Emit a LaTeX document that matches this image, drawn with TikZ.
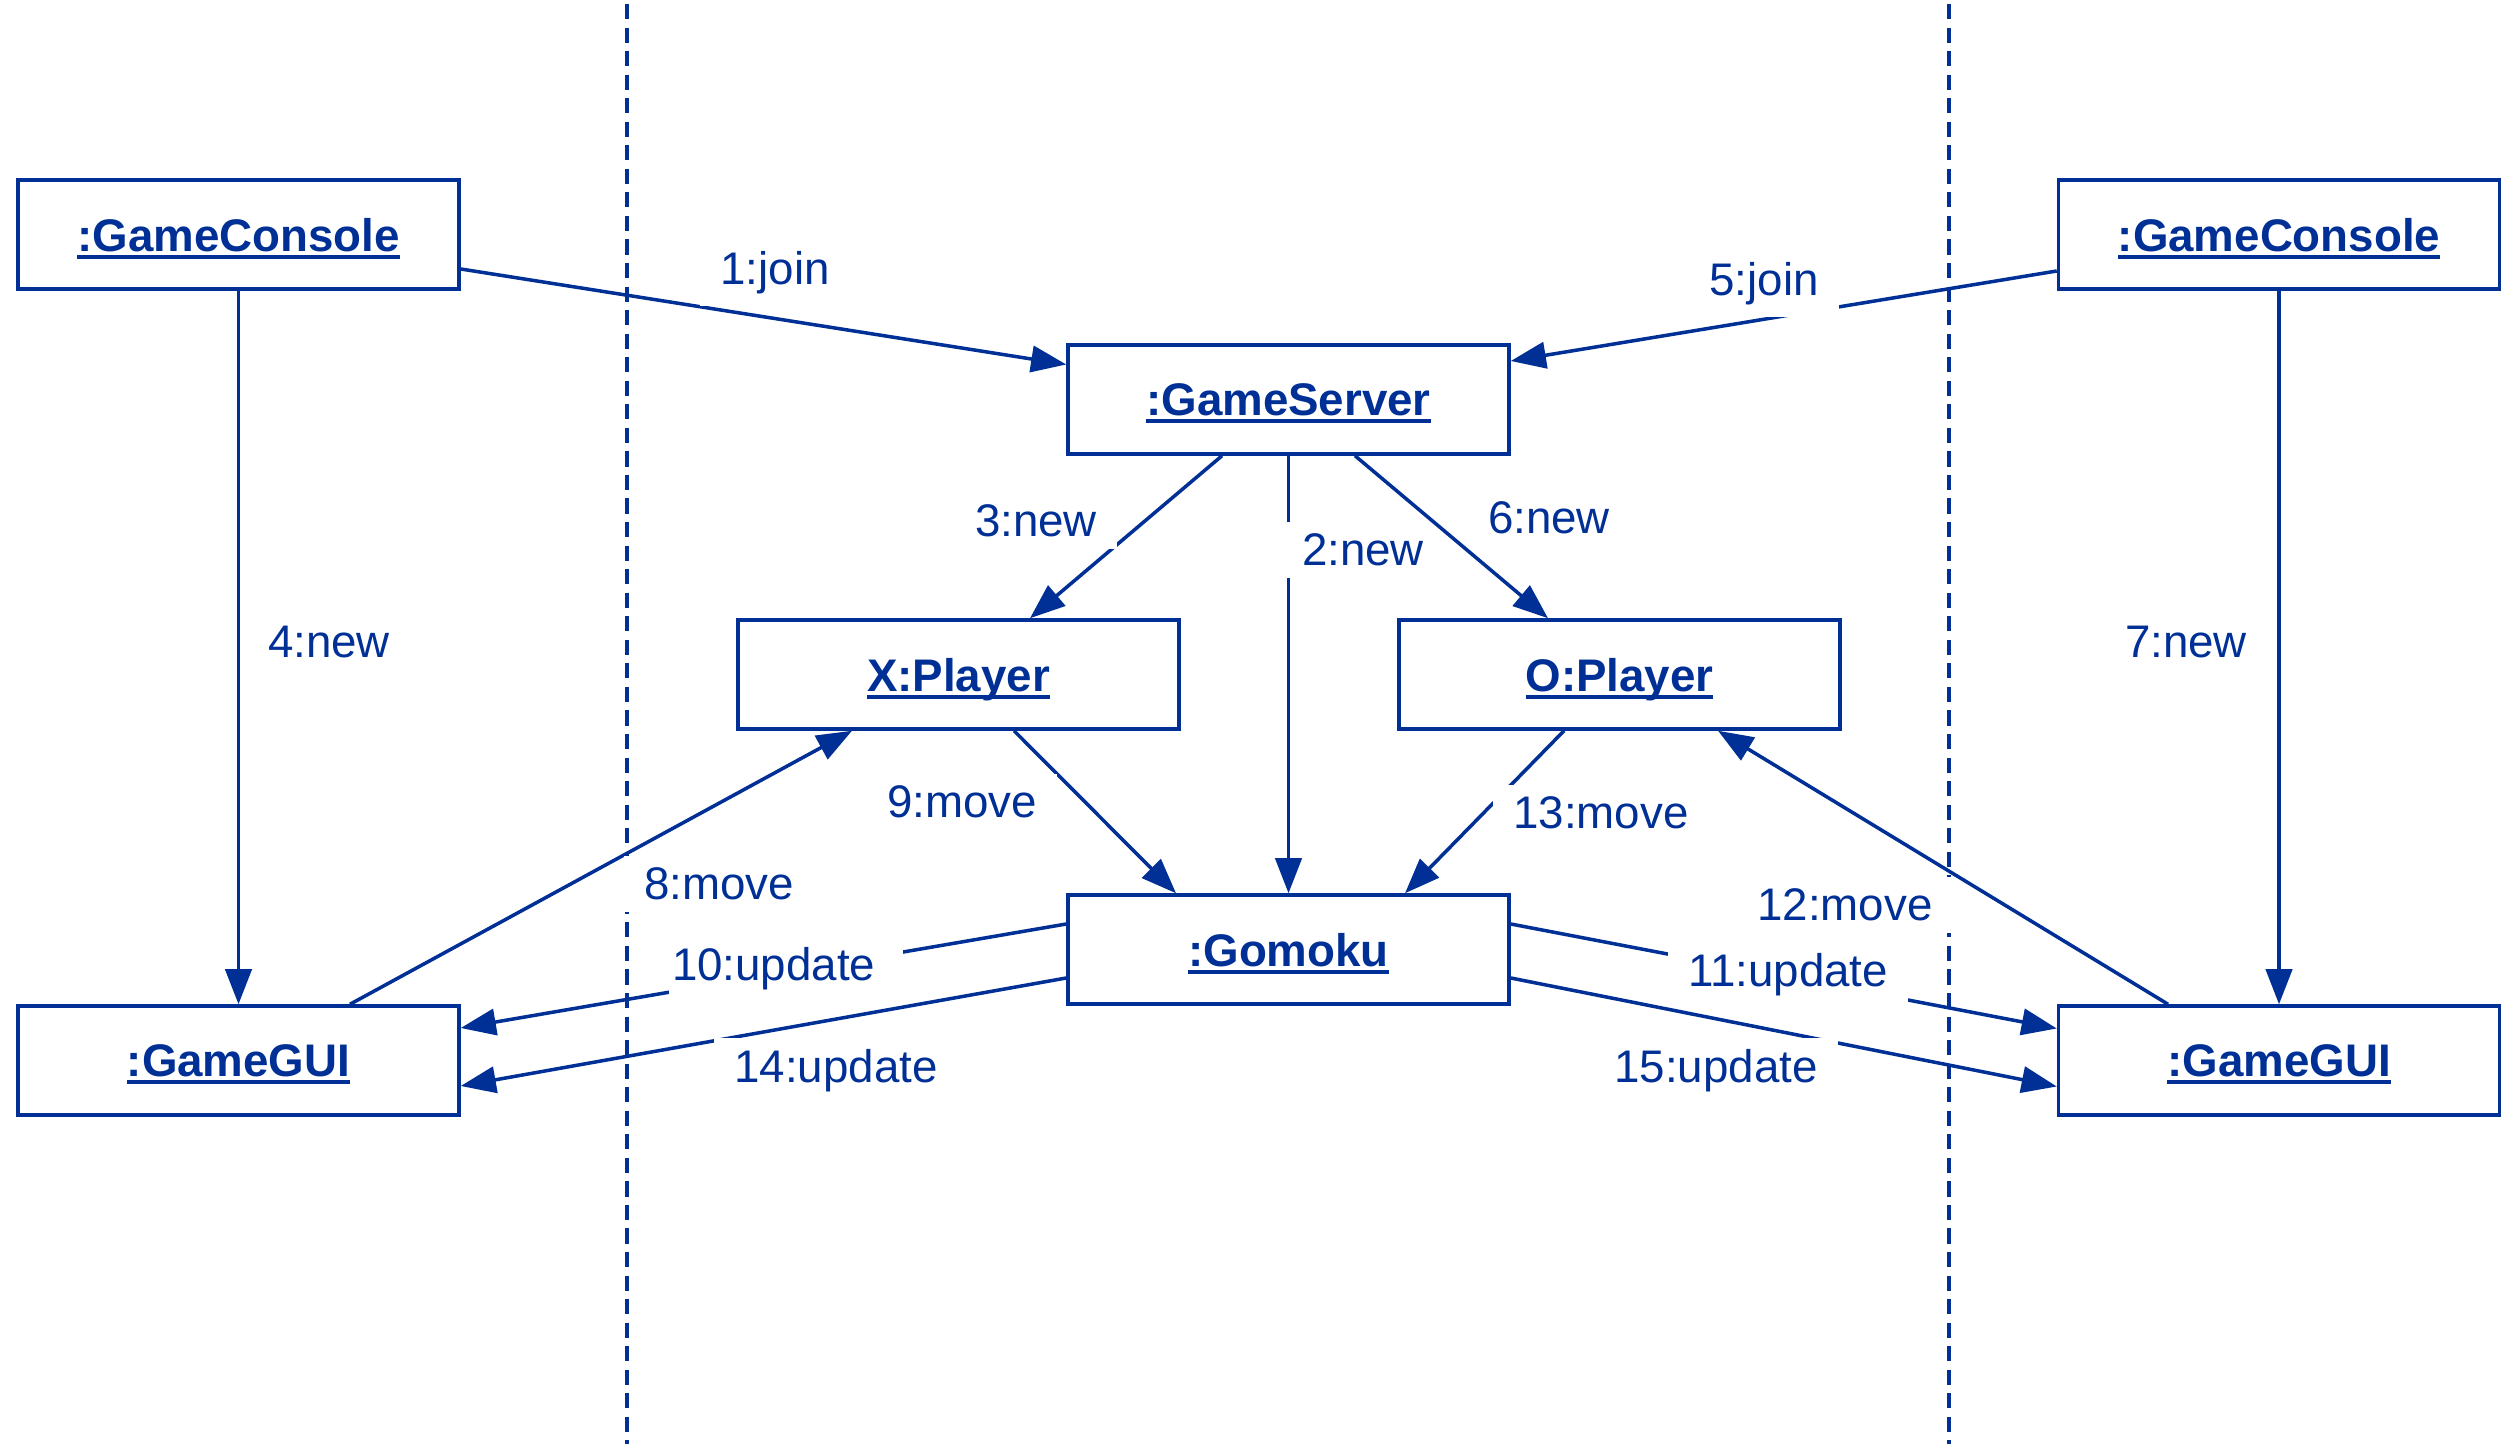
\documentclass[tikz,border=0pt]{standalone}
\usepackage{fontspec}
\setmainfont{Liberation Sans}
\usetikzlibrary{arrows.meta,positioning}
\definecolor{umlblue}{RGB}{0,48,150}
\newcommand{\objname}[1]{\setbox0=\hbox{#1}\rlap{\rule[-2.2pt]{\wd0}{1.05pt}}\box0}

\begin{document}
\begin{tikzpicture}
	[ obj/.style={ draw=umlblue, line width=1pt, minimum width=4.41cm, minimum height=1.09cm,
	  inner sep=0pt, text depth=0pt, text=umlblue, font=\fontsize{13pt}{15pt}\selectfont\bfseries },
	  msg/.style={ draw=umlblue, line width=1pt, -{Triangle[length=10pt,width=7.5pt]} },
	  lbl/.style={ fill=white, text=umlblue, inner xsep=2mm, inner ysep=1.2mm,
	  font=\fontsize{13pt}{15pt}\selectfont },
	  bound/.style={ draw=umlblue, line width=0.9pt, dash pattern=on 4.3pt off 2.4pt }
	]
	\useasboundingbox (0,0) rectangle (25.15,14.49);
	\foreach \x/\n in {6.27/l,19.49/r}{
		\coordinate (top-\n) at (\x,14.45);
		\coordinate (bot-\n) at (\x,0.05);
		\draw[bound] (top-\n) -- (bot-\n);
	}

	\node[obj] (gcL)  at (2.385,12.145) {\objname{:GameConsole}};
	\node[obj] (gcR)  at (22.79,12.145) {\objname{:GameConsole}};
	\node[obj] (srv)  at (12.885,10.495) {\objname{:GameServer}};
	\node[obj] (xp)   at (9.585,7.745)   {\objname{X:Player}};
	\node[obj] (op)   at (16.195,7.745)  {\objname{O:Player}};
	\node[obj] (gmk)  at (12.885,4.995)  {\objname{:Gomoku}};
	\node[obj] (guiL) at (2.385,3.885)   {\objname{:GameGUI}};
	\node[obj] (guiR) at (22.79,3.885)   {\objname{:GameGUI}};

	\draw[msg] ([yshift=-3.45mm]gcL.east) -- ([yshift=3.5mm]srv.west)
		node[lbl] at (7.75,11.76) {1:join};
	\draw[msg] (srv.south) -- (gmk.north)
		node[lbl] at (13.63,8.99) {2:new};
	\draw[msg] ([xshift=-6.65mm]srv.south) -- ([xshift=7.15mm]xp.north)
		node[lbl] at (10.36,9.28) {3:new};
	\draw[msg] (gcL.south) -- (guiL.north)
		node[lbl] at (3.29,8.07) {4:new};
	\draw[msg] ([yshift=-3.65mm]gcR.west) -- ([yshift=3.85mm]srv.east)
		node[lbl] at (17.64,11.65) {5:join};
	\draw[msg] ([xshift=6.65mm]srv.south) -- ([xshift=-7.15mm]op.north)
		node[lbl] at (15.49,9.31) {6:new};
	\draw[msg] (gcR.south) -- (guiR.north)
		node[lbl] at (21.86,8.07) {7:new};
	\draw[msg] ([xshift=11.15mm]guiL.north) -- ([xshift=-10.65mm]xp.south)
		node[lbl] at (7.19,5.65) {8:move};
	\draw[msg] ([xshift=5.55mm]xp.south) -- ([xshift=-11.25mm]gmk.north)
		node[lbl] at (9.62,6.47) {9:move};
	\draw[msg] ([yshift=2.55mm]gmk.west) -- ([yshift=3.25mm]guiL.east)
		node[lbl, inner xsep=0.3mm, text width=2.28cm, align=left] at (7.86,4.80) {10:update};
	\draw[msg] ([yshift=2.55mm]gmk.east) -- ([yshift=3.2mm]guiR.west)
		node[lbl] at (17.88,4.74) {11:update};
	\draw[msg] ([xshift=-11.1mm]guiR.north) -- ([xshift=9.85mm]op.south)
		node[lbl] at (18.45,5.44) {12:move};
	\draw[msg] ([xshift=-5.55mm]op.south) -- ([xshift=11.65mm]gmk.north)
		node[lbl] at (16.01,6.36) {13:move};
	\draw[msg] ([yshift=-2.85mm]gmk.west) -- ([yshift=-2.55mm]guiL.east)
		node[lbl] at (8.36,3.78) {14:update};
	\draw[msg] ([yshift=-2.85mm]gmk.east) -- ([yshift=-2.6mm]guiR.west)
		node[lbl] at (17.16,3.78) {15:update};
\end{tikzpicture}
\end{document}
